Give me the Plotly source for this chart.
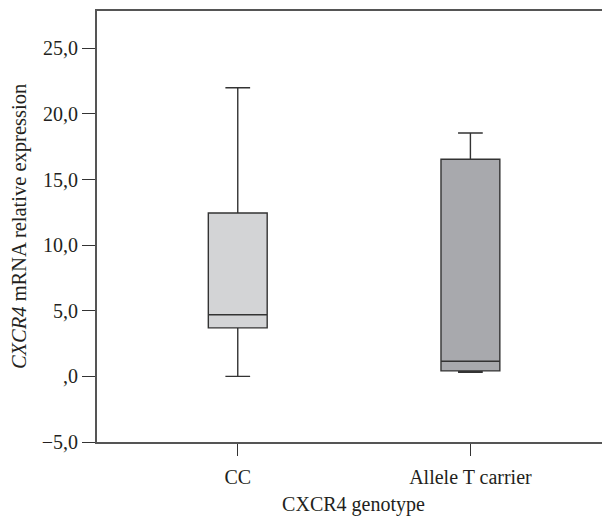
import plotly.graph_objects as go

categories = ["CC", "Allele T carrier"]
lower_whisker = [0.0, 0.32]
q1_vals = [3.7, 0.42]
median_vals = [4.7, 1.15]
q3_vals = [12.45, 16.55]
upper_whisker = [22.0, 18.55]
fill_colors = ["#d3d4d6", "#a8a9ad"]

y_tickvals = [-5, 0, 5, 10, 15, 20, 25]
y_ticktext = ["\u22125,0", ",0", "5,0", "10,0", "15,0", "20,0", "25,0"]

FONT = "Liberation Serif, Times New Roman, serif"

fig = go.Figure()
for i, cat in enumerate(categories):
    fig.add_trace(go.Box(
        x=[i],
        q1=[q1_vals[i]], median=[median_vals[i]], q3=[q3_vals[i]],
        lowerfence=[lower_whisker[i]], upperfence=[upper_whisker[i]],
        fillcolor=fill_colors[i],
        line=dict(color="#333333", width=1.4),
        width=0.253, whiskerwidth=0.42,
        boxpoints=False, showlegend=False, hoverinfo="skip",
    ))

fig.update_layout(
    width=602, height=511,
    margin=dict(l=89, r=0, t=3, b=77),
    plot_bgcolor="white", paper_bgcolor="white",
    font=dict(family=FONT, size=20, color="#231f20"),
    xaxis=dict(
        range=[-0.605, 1.6],
        tickvals=[0, 1], ticktext=categories,
        showline=True, linecolor="#555555", linewidth=2, mirror=True,
        ticks="outside", ticklen=12, tickcolor="#333333", tickwidth=1,
        ticklabelstandoff=4,
        showgrid=False, zeroline=False,
        title=dict(text="CXCR4 genotype", font=dict(size=20), standoff=10),
        tickfont=dict(size=20),
        automargin=False,
    ),
    yaxis=dict(
        range=[-5, 27.85],
        tickvals=y_tickvals, ticktext=y_ticktext,
        showline=True, linecolor="#555555", linewidth=2, mirror=False,
        ticks="outside", ticklen=13, tickcolor="#333333", tickwidth=1,
        ticklabelstandoff=0,
        showgrid=False, zeroline=False,
        title=dict(text="<i>CXCR4</i> mRNA relative expression", font=dict(size=20.5), standoff=10),
        tickfont=dict(size=20),
        automargin=False,
    ),
)

fig.write_html("out.html")
